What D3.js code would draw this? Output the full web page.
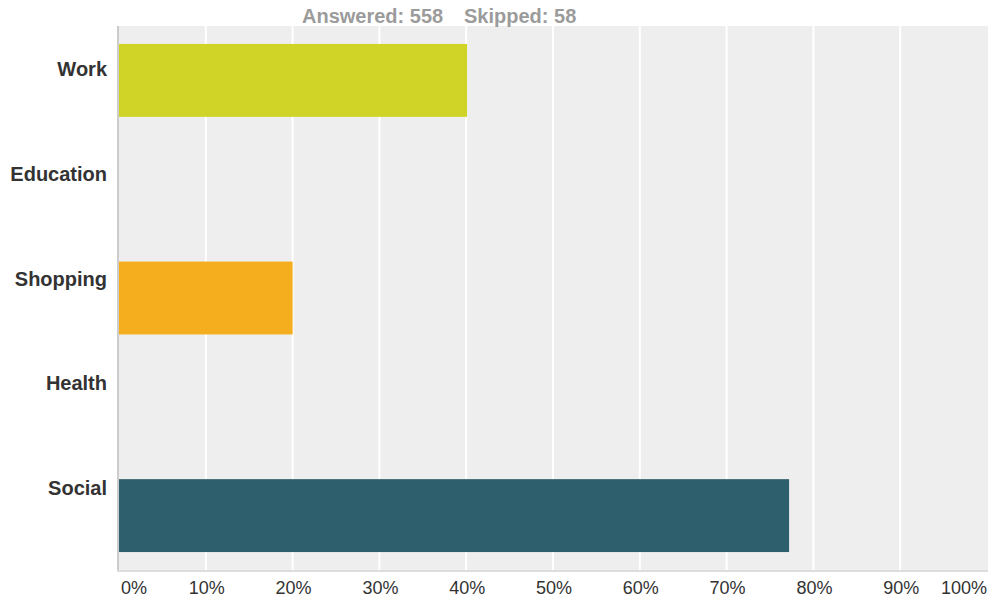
<!DOCTYPE html>
<html>
<head>
<meta charset="utf-8">
<script src="https://cdn.jsdelivr.net/npm/d3@7"></script>
<style>
  body { margin: 0; background: #fff; }
  text { font-family: "Liberation Sans", Arial, sans-serif; }
</style>
</head>
<body>
<div id="chart"></div>
<script>
const categories = ["Work", "Education", "Shopping", "Health", "Social"];
const values = [40.1, 0, 20, 0, 77.2];
const colors = ["#cfd426", "#cfd426", "#f5ae1e", "#f5ae1e", "#2e5f6c"];
const ticks = [0, 10, 20, 30, 40, 50, 60, 70, 80, 90, 100];
const answered = 558;
const skipped = 58;

const width = 994, height = 600;
const margin = { top: 26, right: 6, bottom: 30, left: 119 };

const svg = d3.select("#chart").append("svg")
  .attr("width", width)
  .attr("height", height);

const x = d3.scaleLinear()
  .domain([0, 100])
  .range([margin.left, width - margin.right - 1]);

const y = d3.scaleBand()
  .domain(categories)
  .range([margin.top, height - margin.bottom])
  .paddingInner(0.33)
  .paddingOuter(0.165);

// label positions don't sit on bar centres in the original
const yLabel = d3.scalePoint()
  .domain(categories)
  .range([69, 488]);

// background
svg.append("rect")
  .attr("x", x(0))
  .attr("y", margin.top)
  .attr("width", x(100) - x(0) + 1)
  .attr("height", height - margin.bottom - margin.top)
  .attr("fill", "#eeeeee");

// gridlines
svg.append("g")
  .selectAll("line")
  .data(ticks.slice(1, -1))
  .join("line")
  .attr("x1", (d) => x(d))
  .attr("x2", (d) => x(d))
  .attr("y1", margin.top)
  .attr("y2", height - margin.bottom)
  .attr("stroke", "#ffffff")
  .attr("stroke-width", 2);

// bars
svg.append("g")
  .selectAll("rect")
  .data(values)
  .join("rect")
  .attr("x", x(0))
  .attr("y", (_, i) => y(categories[i]))
  .attr("width", (d) => x(d) - x(0))
  .attr("height", y.bandwidth())
  .attr("fill", (_, i) => colors[i]);

// axis lines
svg.append("line")
  .attr("x1", x(0) - 1).attr("x2", x(0) - 1)
  .attr("y1", margin.top).attr("y2", height - margin.bottom + 2)
  .attr("stroke", "#cccccc").attr("stroke-width", 2);

svg.append("line")
  .attr("x1", x(0) - 2).attr("x2", x(100) + 1)
  .attr("y1", height - margin.bottom + 1).attr("y2", height - margin.bottom + 1)
  .attr("stroke", "#dddddd").attr("stroke-width", 2);

// x tick labels
svg.append("g")
  .selectAll("text")
  .data(ticks)
  .join("text")
  .attr("x", (d, i) => i === 0 ? x(d) + 2 : i === ticks.length - 1 ? x(d) : x(d) + 1)
  .attr("y", 594)
  .attr("text-anchor", (d, i) => i === 0 ? "start" : i === ticks.length - 1 ? "end" : "middle")
  .attr("font-size", 18)
  .attr("fill", "#333333")
  .text((d) => `${d}%`);

// category labels
svg.append("g")
  .selectAll("text")
  .data(categories)
  .join("text")
  .attr("x", 107)
  .attr("y", (d) => yLabel(d))
  .attr("dy", "0.35em")
  .attr("text-anchor", "end")
  .attr("font-size", 20)
  .attr("font-weight", "bold")
  .attr("fill", "#333333")
  .text((d) => d);

// header
const head = svg.append("text")
  .attr("y", 23)
  .attr("font-size", 20)
  .attr("font-weight", "bold")
  .attr("fill", "#9b9b9b");
head.append("tspan").attr("x", 302).text(`Answered: ${answered}`);
head.append("tspan").attr("x", 464).text(`Skipped: ${skipped}`);
</script>
</body>
</html>
